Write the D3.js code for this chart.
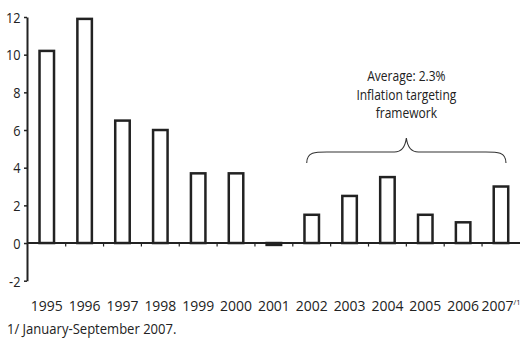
<!DOCTYPE html>
<html>
<head>
<meta charset="utf-8">
<script src="https://cdn.jsdelivr.net/npm/d3@7/dist/d3.min.js"></script>
<style>
  html, body { margin: 0; padding: 0; background: #fff; }
  svg { display: block; }
  text { font-family: "Open Sans", "Liberation Sans", Arial, sans-serif; fill: #222; }
</style>
</head>
<body>
<svg id="chart" width="522" height="342"></svg>
<script>
// Annual values, 1995-2007 (2007: January-September)
const years = ["1995","1996","1997","1998","1999","2000","2001","2002","2003","2004","2005","2006","2007"];
const values = [10.2, 11.9, 6.5, 6.0, 3.7, 3.7, -0.1, 1.5, 2.5, 3.5, 1.5, 1.1, 3.0];
const yTicks = [-2, 0, 2, 4, 6, 8, 10, 12];
const noteLines = ["Average: 2.3%", "Inflation targeting", "framework"];
const bracketFrom = "2002", bracketTo = "2007";
const footnote = "1/ January-September 2007.";

const svg = d3.select("#chart");
const ink = "#222";
const font = "Open Sans, Liberation Sans, sans-serif";
const fs = 14.5;

// Place a text element at (x, y) with horizontally narrowed glyphs
function placeNarrow(sel, fx, fy, k) {
  sel.attr("x", 0).attr("y", 0)
    .attr("transform", (d, i) => `translate(${fx(d, i)},${fy(d, i)}) scale(${k},1)`);
}

const x = d3.scaleBand()
  .domain(years)
  .range([27.85, 519.9])
  .paddingInner(0.617)
  .paddingOuter(0.3085);
const step = x.step();
const cx = d => x(d) + x.bandwidth() / 2;

const y = d3.scaleLinear().domain([-2, 12]).range([280.7, 17]);

// Bars
svg.append("g").selectAll("rect")
  .data(years.map((yr, i) => ({ yr, v: values[i] })))
  .join("rect")
  .attr("x", d => x(d.yr))
  .attr("width", x.bandwidth())
  .attr("y", d => y(Math.max(0, d.v)))
  .attr("height", d => Math.abs(y(d.v) - y(0)))
  .attr("fill", d => d.v < 0 ? ink : "#fff")
  .attr("stroke", ink)
  .attr("stroke-width", 2.5);

// Y axis
const yAxis = svg.append("g")
  .attr("transform", "translate(27,0)")
  .call(d3.axisLeft(y).tickValues(yTicks).tickFormat(d => String(d))
    .tickSize(3).tickSizeOuter(0).tickPadding(4));
yAxis.select(".domain").attr("stroke", ink).attr("stroke-width", 2);
yAxis.selectAll(".tick line").attr("stroke", ink).attr("stroke-width", 1.5);
yAxis.selectAll(".tick text")
  .attr("font-family", font)
  .attr("font-size", 15).attr("fill", ink)
  .attr("dy", null)
  .call(placeNarrow, () => -6.5, () => 5.3, 0.85);

// Zero line with category separators
const y0 = y(0);
svg.append("line")
  .attr("x1", 27).attr("x2", 520)
  .attr("y1", y0).attr("y2", y0)
  .attr("stroke", ink).attr("stroke-width", 2);
svg.append("g").selectAll("line")
  .data(years.slice(0, -1))
  .join("line")
  .attr("x1", d => cx(d) + step / 2).attr("x2", d => cx(d) + step / 2)
  .attr("y1", y0).attr("y2", y0 + 3.5)
  .attr("stroke", ink).attr("stroke-width", 1.2);

// Year labels
const labels = svg.append("g").selectAll("text")
  .data(years)
  .join("text")
  .attr("text-anchor", "middle")
  .attr("font-size", 15)
  .call(placeNarrow, d => cx(d), () => 310.5, 0.93);
labels.append("tspan").text(d => d);
labels.filter(d => d === "2007").append("tspan")
  .attr("font-size", 8).attr("dy", -6).text("/1");

// Bracket over the inflation targeting years
const bx0 = cx(bracketFrom) - 5, bx1 = cx(bracketTo) + 5, bm = (bx0 + bx1) / 2;
const yEnd = 163, yBar = 152, yTip = 138;
const p = d3.path();
p.moveTo(bx0, yEnd);
p.bezierCurveTo(bx0, yBar - 1, bx0 + 10, yBar, bx0 + 24, yBar);
p.lineTo(bm - 12, yBar);
p.bezierCurveTo(bm - 4, yBar, bm - 1, yBar - 6, bm, yTip);
p.bezierCurveTo(bm + 1, yBar - 6, bm + 4, yBar, bm + 12, yBar);
p.lineTo(bx1 - 24, yBar);
p.bezierCurveTo(bx1 - 10, yBar, bx1, yBar - 1, bx1, yEnd);
svg.append("path").attr("d", p.toString())
  .attr("fill", "none").attr("stroke", "#333").attr("stroke-width", 1.1);

svg.append("g").selectAll("text")
  .data(noteLines)
  .join("text")
  .attr("text-anchor", "middle")
  .attr("font-size", fs)
  .text(d => d)
  .call(placeNarrow, () => bm, (d, i) => 81 + i * 18.5, 0.83);

// Footnote
svg.append("text")
  .attr("font-size", fs)
  .text(footnote)
  .call(placeNarrow, () => 7, () => 334, 0.9);
</script>
</body>
</html>
